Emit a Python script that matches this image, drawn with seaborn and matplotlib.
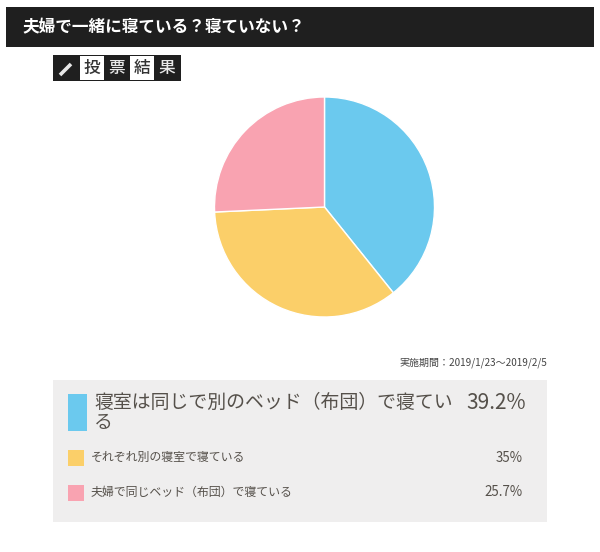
import matplotlib.pyplot as plt
from matplotlib.patches import Rectangle
import seaborn as sns

sns.set_theme(style="white")
plt.rcParams['font.family'] = ['Noto Sans CJK JP', 'DejaVu Sans']

title = "夫婦で一緒に寝ている？寝ていない？"
period = "実施期間：2019/1/23～2019/2/5"
badge_chars = ["投", "票", "結", "果"]
labels = ["寝室は同じで別のベッド（布団）で寝てい\nる", "それぞれ別の寝室で寝ている", "夫婦で同じベッド（布団）で寝ている"]
values = [39.2, 35, 25.7]
value_labels = ["39.2%", "35%", "25.7%"]
colors = sns.color_palette(["#6bc9ee", "#fbcf69", "#f9a3b1"])

W, H = 600, 552
fig = plt.figure(figsize=(W / 100, H / 100), dpi=100)

# page layer in pixel coordinates, y going down
bg = fig.add_axes([0, 0, 1, 1])
bg.set_xlim(0, W)
bg.set_ylim(H, 0)
bg.axis("off")

dark = "#1f1f1f"
text_col = "#55504a"

# header bar
bg.add_patch(Rectangle((6, 7), 588, 40, color=dark, lw=0))
bg.text(22, 27, title, color="white", fontsize=12, fontweight="bold", va="center", ha="left")

# badge
bg.add_patch(Rectangle((53, 55), 128, 26, color=dark, lw=0))
bg.plot([60, 71], [75, 64], color="#e8e8e8", lw=2.6, solid_capstyle="butt")
for i, ch in enumerate(badge_chars):
    x = 80 + i * 25
    inverted = i % 2 == 0
    if inverted:
        bg.add_patch(Rectangle((x, 56), 24, 24, color="white", lw=0))
    bg.text(x + 12, 68, ch, color="#333333" if inverted else "#e8e8e8", fontsize=12,
            ha="center", va="center", fontweight="medium")

bg.text(547, 362.5, period, color="#444444", fontsize=7.2, ha="right", va="center")

# result panel
bg.add_patch(Rectangle((53, 380), 494, 142, color="#efeeee", lw=0))
bg.add_patch(Rectangle((68, 394), 19, 37, color=colors[0], lw=0))
bg.text(94, 412.5, labels[0], color=text_col, fontsize=13.6, va="center", ha="left", linespacing=0.9)
bg.text(526, 403, value_labels[0], color=text_col, fontsize=15, va="center", ha="right")

for i, y in zip([1, 2], [458, 493]):
    bg.add_patch(Rectangle((68, y - 8), 16, 16, color=colors[i], lw=0))
    bg.text(91, y - 0.5, labels[i], color=text_col, fontsize=8.6, va="center", ha="left")
    bg.text(523, y - 0.5, value_labels[i], color=text_col, fontsize=9.6, va="center", ha="right")

# pie
cx, cy, r = 324.5, 207, 110
ax = fig.add_axes([(cx - r) / W, 1 - (cy + r) / H, 2 * r / W, 2 * r / H])
ax.pie(values, colors=colors, startangle=90, counterclock=False, radius=1,
       wedgeprops={"edgecolor": "white", "linewidth": 1})
ax.set_xlim(-1, 1)
ax.set_ylim(-1, 1)

fig.savefig("out.png", dpi=100, facecolor="white")
